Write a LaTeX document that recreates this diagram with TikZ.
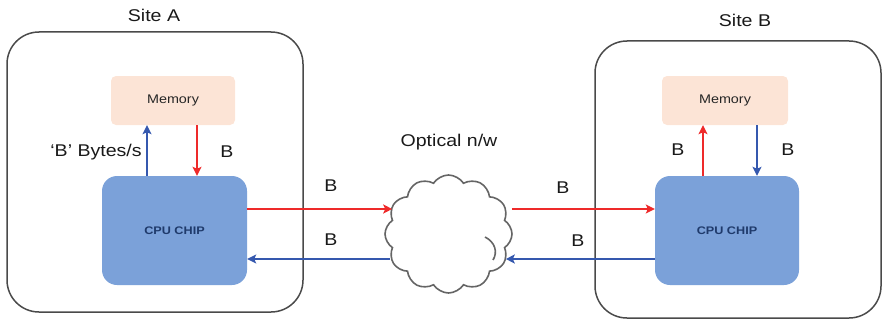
\documentclass[tikz,border=0pt]{standalone}
\usepackage{fontspec}
\setmainfont{Liberation Sans}[FakeStretch=1.15]
\usetikzlibrary{shapes.symbols,arrows.meta}
\definecolor{memfill}{HTML}{FCE4D6}
\definecolor{cpufill}{HTML}{7BA1D9}
\definecolor{cputext}{HTML}{1F3A6B}
\definecolor{arrred}{HTML}{EE2A2A}
\definecolor{arrblue}{HTML}{3558AE}
\definecolor{edgegray}{HTML}{4A4A4A}
\tikzset{
  sitebox/.style={draw=edgegray,line width=1.5pt,rounded corners=32pt,inner sep=0pt},
  membox/.style={fill=memfill,rounded corners=5pt,minimum width=124pt,minimum height=49pt,inner sep=0pt,
    font=\fontsize{12.5}{14}\selectfont,text=black!85},
  cpubox/.style={fill=cpufill,rounded corners=15pt,minimum width=145pt,minimum height=109pt,inner sep=0pt,
    font=\bfseries\fontsize{11}{13}\selectfont,text=cputext},
  biglabel/.style={font=\fontsize{17}{20}\selectfont,text=black!90,inner sep=0pt},
  redarr/.style={draw=arrred,line width=2.3pt,-{Stealth[length=9pt,width=9pt,inset=2pt]}},
  bluearr/.style={draw=arrblue,line width=2.3pt,-{Stealth[length=9pt,width=9pt,inset=2pt]}},
  cloudline/.style={draw=edgegray!85,line width=1.6pt},
}
\begin{document}
\begin{tikzpicture}[x=1pt,y=-1pt]
\useasboundingbox (0,0) rectangle (882,321);
% sites
\node[sitebox,minimum width=296pt,minimum height=280pt] (siteA) at (155,172) {};
\node[sitebox,minimum width=286pt,minimum height=277pt] (siteB) at (738,179.5) {};
\node[biglabel] (labA) at (154,15) {Site A};
\node[biglabel] (labB) at (745,20) {Site B};
% memory and cpu
\node[membox] (memA) at (173,100.5) {Memory};
\node[cpubox] (cpuA) at (174.5,230.5) {CPU CHIP};
\node[membox,minimum width=126pt] (memB) at (725,100.5) {Memory};
\node[cpubox,minimum width=144pt] (cpuB) at (727,230.5) {CPU CHIP};
% cloud
\node[cloud,cloud puffs=12,cloud puff arc=115,aspect=1.08,cloudline,fill=white,
      minimum width=127pt,minimum height=118pt,inner sep=0pt] (net) at (448.5,234) {};
\draw[cloudline] (485,237) .. controls (495,242) and (498,252) .. (493,260);
\node[biglabel] (labnet) at (449,142) {Optical n/w};
% site A vertical
\draw[bluearr] (cpuA.north -| 147,0) -- (memA.south -| 147,0);
\draw[redarr] (memA.south -| 197,0) -- (cpuA.north -| 197,0);
\node[biglabel] (lbA1) at (96,152) {`B' Bytes/s};
\node[biglabel] (lbA2) at (227,152) {B};
% site B vertical
\draw[redarr] (cpuB.north -| 703,0) -- (memB.south -| 703,0);
\draw[bluearr] (memB.south -| 757,0) -- (cpuB.north -| 757,0);
\node[biglabel] (lbB1) at (678,150) {B};
\node[biglabel] (lbB2) at (788,150) {B};
% horizontal
\draw[redarr] (cpuA.east |- 0,209) -- ([xshift=8pt]net.west |- 0,209);
\draw[bluearr] ([xshift=6pt]net.west |- 0,259) -- (cpuA.east |- 0,259);
\draw[redarr] ([xshift=-1pt]net.east |- 0,209) -- (cpuB.west |- 0,209);
\draw[bluearr] (cpuB.west |- 0,259) -- ([xshift=-7pt]net.east |- 0,259);
\node[biglabel] (lh1) at (331,186) {B};
\node[biglabel] (lh2) at (331,240) {B};
\node[biglabel] (lh3) at (563,188) {B};
\node[biglabel] (lh4) at (578,241) {B};
\end{tikzpicture}
\end{document}
